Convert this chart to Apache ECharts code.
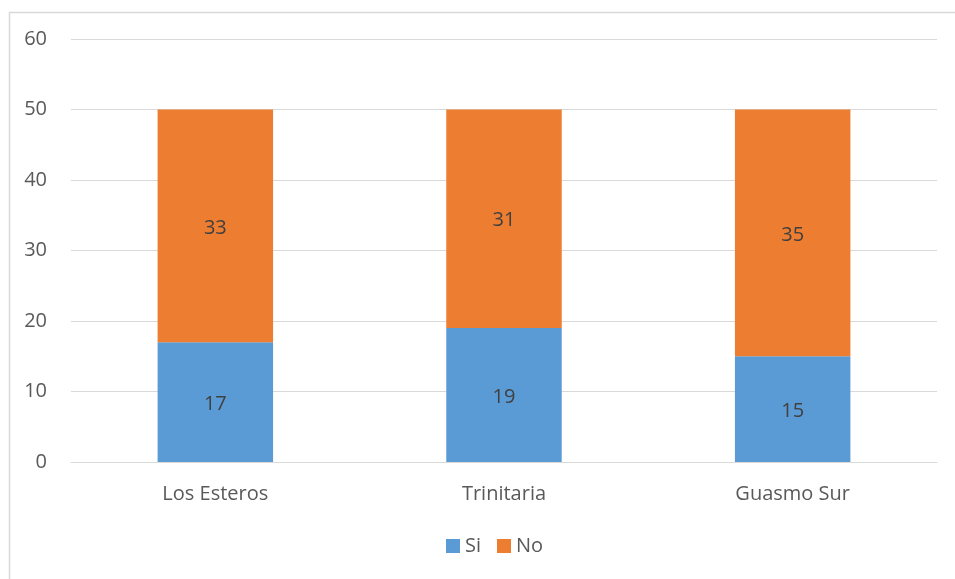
<!DOCTYPE html>
<html>
<head>
<meta charset="utf-8">
<script src="https://cdn.jsdelivr.net/npm/echarts@6/dist/echarts.min.js"></script>
<style>
  html, body { margin: 0; padding: 0; background: #ffffff; }
  #chart { width: 955px; height: 579px; }
</style>
</head>
<body>
<div id="chart"></div>
<script>
// Categories and stacked values
const categories = ['Los Esteros', 'Trinitaria', 'Guasmo Sur'];
const siValues = [17, 19, 15];
const noValues = [33, 31, 35];
const yTicks = { min: 0, max: 60, interval: 10 };

const fontFamily = '"Open Sans", "Liberation Sans", sans-serif';
const labelStyle = {
  show: true,
  position: 'inside',
  color: '#404040',
  fontSize: 20,
  fontFamily: fontFamily,
  offset: [0, 2]
};

const chart = echarts.init(document.getElementById('chart'));
chart.setOption({
  backgroundColor: '#ffffff',
  animation: false,
  graphic: [{
    type: 'rect',
    left: 7, top: 10,
    shape: { width: 980, height: 600 },
    style: { fill: 'none', stroke: '#d9d9d9', lineWidth: 1.5 },
    silent: true
  }],
  grid: { left: 71, right: 18, top: 39, bottom: 117, containLabel: false },
  legend: {
    bottom: 18,
    left: 441,
    itemWidth: 14,
    itemHeight: 14,
    itemGap: 16,
    icon: 'rect',
    textStyle: { color: '#595959', fontSize: 20, fontFamily: fontFamily },
    data: ['Si', 'No']
  },
  xAxis: {
    type: 'category',
    data: categories,
    axisLine: { lineStyle: { color: '#d9d9d9', width: 1 } },
    axisTick: { show: false },
    axisLabel: { color: '#595959', fontSize: 20, fontFamily: fontFamily, margin: 22 }
  },
  yAxis: {
    type: 'value',
    min: yTicks.min,
    max: yTicks.max,
    interval: yTicks.interval,
    axisLine: { show: false },
    axisTick: { show: false },
    splitLine: { lineStyle: { color: '#d9d9d9', width: 1 } },
    axisLabel: { color: '#595959', fontSize: 20, fontFamily: fontFamily, margin: 24 }
  },
  series: [
    {
      name: 'Si',
      type: 'bar',
      stack: 'total',
      barWidth: '40%',
      data: siValues,
      itemStyle: { color: '#5B9BD5' },
      label: labelStyle
    },
    {
      name: 'No',
      type: 'bar',
      stack: 'total',
      barWidth: '40%',
      data: noValues,
      itemStyle: { color: '#ED7D31' },
      label: labelStyle
    }
  ]
});
</script>
</body>
</html>
